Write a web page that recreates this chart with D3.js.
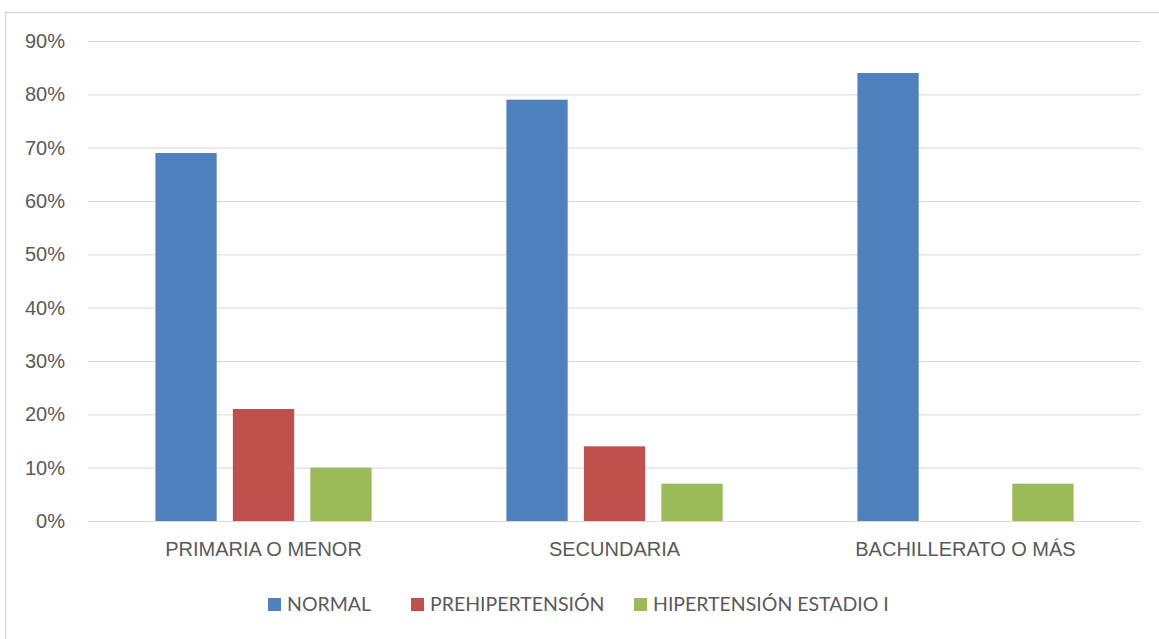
<!DOCTYPE html>
<html>
<head>
<meta charset="utf-8">
<script src="https://cdn.jsdelivr.net/npm/d3@7"></script>
<style>
  html, body { margin: 0; padding: 0; background: #fff; }
  svg { display: block; font-family: Lato, "Open Sans", sans-serif; }
</style>
</head>
<body>
<svg id="chart" width="1159" height="639"></svg>
<script>
// Education level categories
const categories = ["PRIMARIA O MENOR", "SECUNDARIA", "BACHILLERATO O MÁS"];
// Blood pressure classes
const seriesNames = ["NORMAL", "PREHIPERTENSIÓN", "HIPERTENSIÓN ESTADIO I"];
// Percentage per class, one value per education level
const normal = [69, 79, 84];
const prehipertension = [21, 14, 0];
const hipertensionI = [10, 7, 7];
const seriesValues = [normal, prehipertension, hipertensionI];
const seriesColors = ["#4F81BD", "#C0504D", "#9BBB59"];
const yTicks = [0, 10, 20, 30, 40, 50, 60, 70, 80, 90];

const svg = d3.select("#chart");
const plot = { left: 88, right: 1141, top: 41, bottom: 521 };

// Outer chart frame
svg.append("rect")
  .attr("x", 5.5).attr("y", 12.5)
  .attr("width", 1170).attr("height", 640)
  .attr("fill", "none").attr("stroke", "#D9D9D9").attr("stroke-width", 1.5);

const y = d3.scaleLinear().domain([0, 90]).range([plot.bottom, plot.top]);
const x0 = d3.scaleBand().domain(categories)
  .range([plot.left, plot.right]).paddingInner(0.384).paddingOuter(0.192);
const x1 = d3.scaleBand().domain(seriesNames)
  .range([0, x0.bandwidth()]).paddingInner(0.209);

// Horizontal gridlines and percentage labels
const yAxis = d3.axisLeft(y).tickValues(yTicks)
  .tickFormat(d => d + "%")
  .tickSize(-(plot.right - plot.left)).tickPadding(23);
const gy = svg.append("g").attr("transform", `translate(${plot.left},0)`).call(yAxis);
gy.select(".domain").remove();
gy.selectAll(".tick line").attr("stroke", "#D9D9D9").attr("stroke-width", 1);
gy.selectAll(".tick text").attr("fill", "#595959").style("font-size", "20px");

// Category labels
const xAxis = d3.axisBottom(x0).tickSize(0).tickPadding(21);
const gx = svg.append("g").attr("transform", `translate(0,${plot.bottom})`).call(xAxis);
gx.select(".domain").remove();
gx.selectAll(".tick text").attr("fill", "#595959").style("font-size", "20px");

// Bars
const rows = [];
categories.forEach((c, i) => {
  seriesNames.forEach((s, j) => rows.push({ cat: c, series: s, value: seriesValues[j][i], color: seriesColors[j] }));
});
svg.append("g").selectAll("rect")
  .data(rows.filter(d => d.value > 0))
  .join("rect")
  .attr("x", d => x0(d.cat) + x1(d.series))
  .attr("y", d => y(d.value))
  .attr("width", x1.bandwidth())
  .attr("height", d => y(0) - y(d.value))
  .attr("fill", d => d.color);

// Legend
const legendX = [268, 411, 634];
const lg = svg.append("g").selectAll("g")
  .data(seriesNames)
  .join("g")
  .attr("transform", (d, i) => `translate(${legendX[i]},598)`);
lg.append("rect").attr("width", 13).attr("height", 13)
  .attr("fill", (d, i) => seriesColors[i]);
lg.append("text").attr("x", 19).attr("y", 6.5).attr("dy", "0.35em")
  .attr("fill", "#595959").style("font-size", "19.5px")
  .text(d => d);
</script>
</body>
</html>
